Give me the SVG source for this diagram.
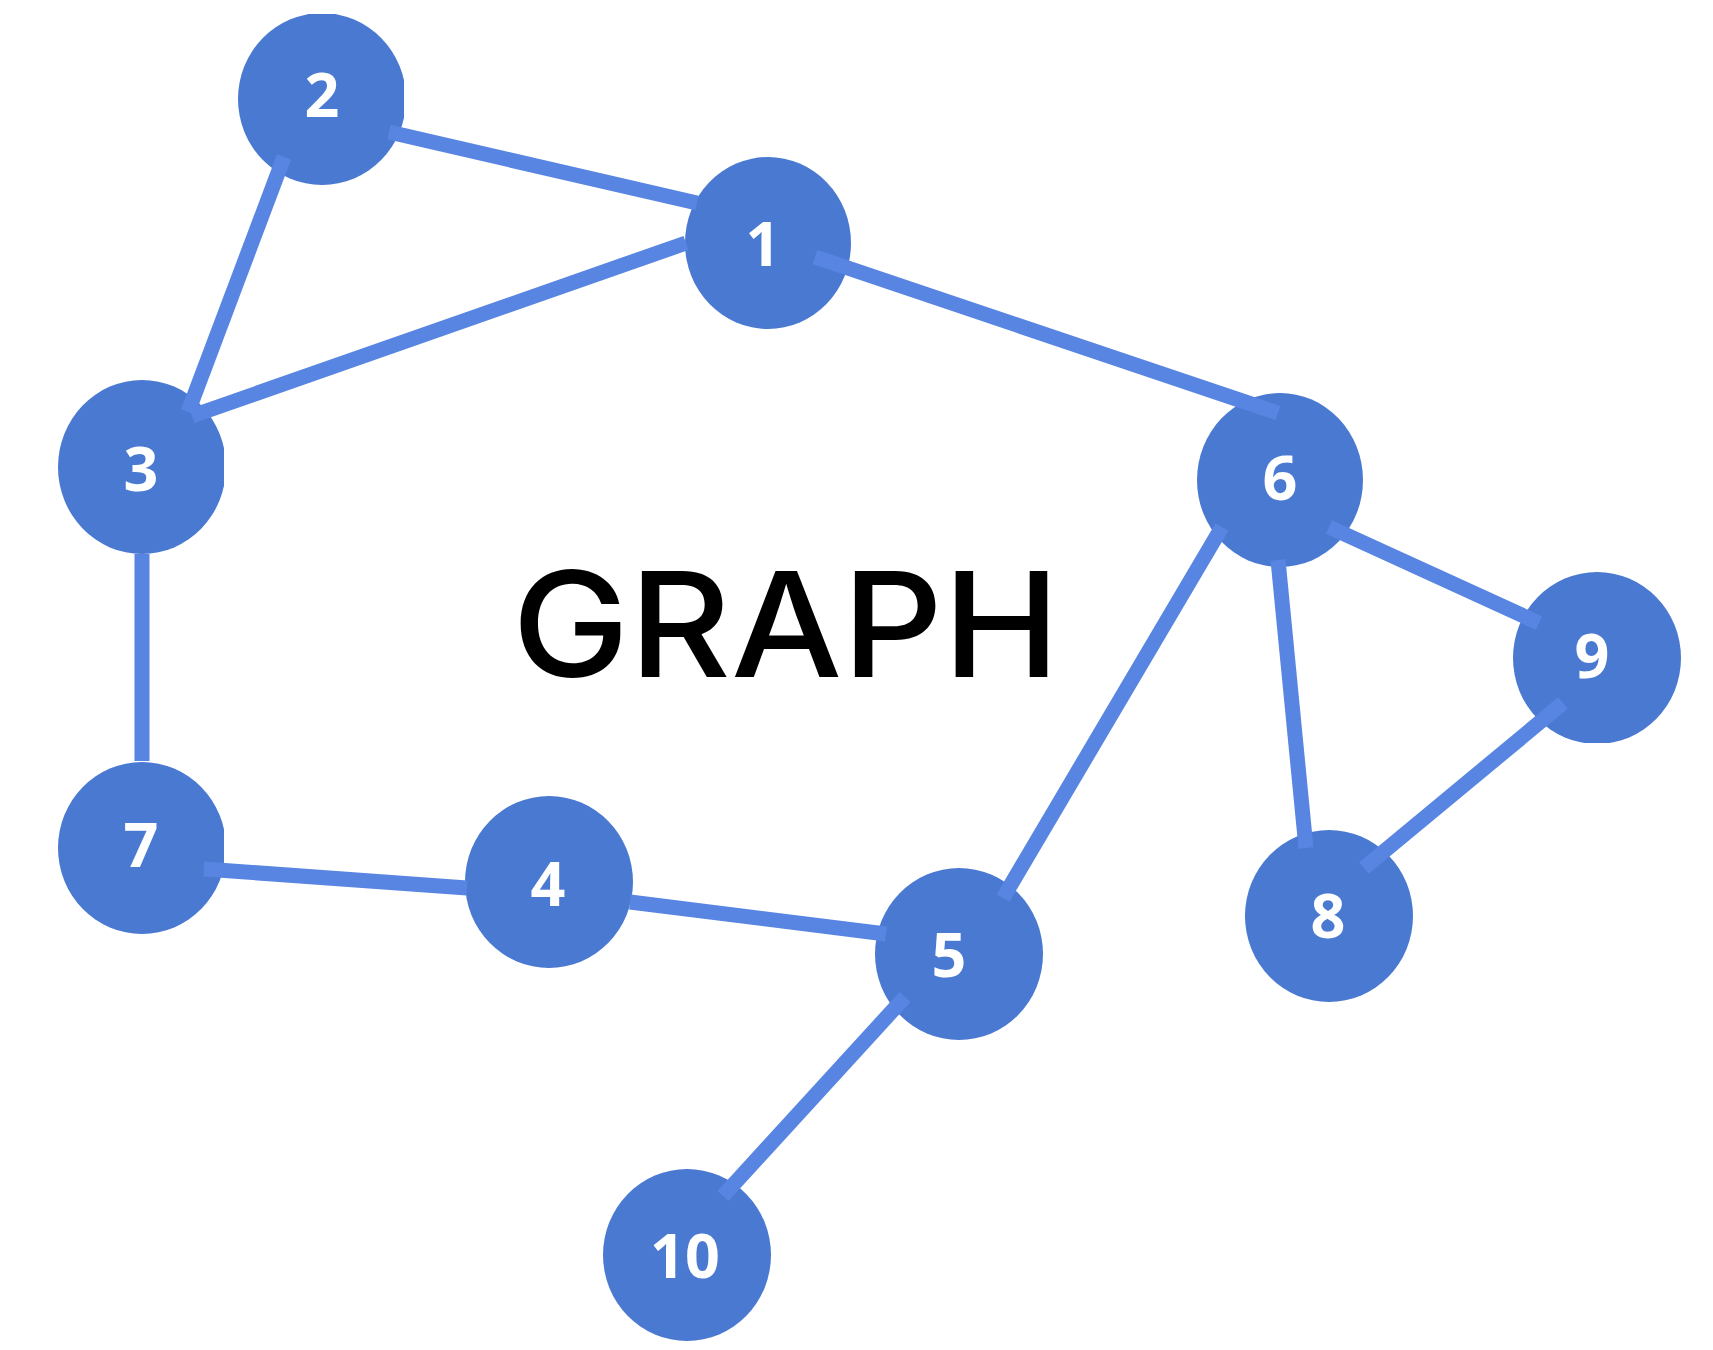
<svg xmlns="http://www.w3.org/2000/svg" width="1713" height="1350" viewBox="0 0 1713 1350">
  <style>
    .node { fill: #4a79d1; }
    .lbl { font-family: "Open Sans", "Liberation Sans", sans-serif; font-weight: 700; font-size: 61px; fill: #ffffff; text-anchor: middle; }
    .edge { stroke: #5885e1; stroke-width: 15; stroke-linecap: butt; fill: none; }
    .title { font-family: Inter, "Liberation Sans", sans-serif; font-weight: 550; font-size: 146px; fill: #000000; }
  </style>
  <defs>
    <clipPath id="c2"><rect x="200" y="14" width="204" height="200"/></clipPath>
    <clipPath id="c3"><rect x="40" y="370" width="184" height="200"/></clipPath>
    <clipPath id="c7"><rect x="40" y="750" width="184" height="200"/></clipPath>
    <clipPath id="c9"><rect x="1500" y="560" width="200" height="183"/></clipPath>
  </defs>
  <rect width="1713" height="1350" fill="#ffffff"/>
  <g id="nodes">
    <g id="node-1"><ellipse class="node" cx="768" cy="243" rx="83" ry="86"/><text class="lbl" x="763" y="266">1</text></g>
    <g id="node-2"><ellipse class="node" cx="322" cy="99" rx="84" ry="86" clip-path="url(#c2)"/><text class="lbl" x="322" y="117">2</text></g>
    <g id="node-3"><ellipse class="node" cx="142" cy="467" rx="84" ry="87" clip-path="url(#c3)"/><text class="lbl" x="141" y="491">3</text></g>
    <g id="node-4"><ellipse class="node" cx="549" cy="882" rx="84" ry="86"/><text class="lbl" x="548" y="906">4</text></g>
    <g id="node-5"><ellipse class="node" cx="959" cy="954" rx="84" ry="86"/><text class="lbl" x="949" y="977">5</text></g>
    <g id="node-6"><ellipse class="node" cx="1280" cy="480" rx="83" ry="87"/><text class="lbl" x="1280" y="500">6</text></g>
    <g id="node-7"><ellipse class="node" cx="142" cy="848" rx="84" ry="86" clip-path="url(#c7)"/><text class="lbl" x="141" y="867">7</text></g>
    <g id="node-8"><ellipse class="node" cx="1329" cy="916" rx="84" ry="86"/><text class="lbl" x="1328" y="938">8</text></g>
    <g id="node-9"><ellipse class="node" cx="1597" cy="658" rx="84" ry="86" clip-path="url(#c9)"/><text class="lbl" x="1592" y="678">9</text></g>
    <g id="node-10"><ellipse class="node" cx="687" cy="1255" rx="84" ry="86"/><text class="lbl" x="685" y="1278">10</text></g>
  </g>
  <g id="edges">
    <line class="edge" x1="389" y1="132" x2="697" y2="203"/>
    <line class="edge" x1="284" y1="157" x2="188" y2="412"/>
    <line class="edge" x1="686" y1="243" x2="192" y2="416"/>
    <line class="edge" x1="815" y1="257" x2="1278" y2="413"/>
    <line class="edge" x1="142" y1="554" x2="142" y2="761"/>
    <line class="edge" x1="204" y1="869" x2="467" y2="888"/>
    <line class="edge" x1="630" y1="902" x2="886" y2="934"/>
    <line class="edge" x1="1222" y1="527" x2="1003" y2="898"/>
    <line class="edge" x1="1278" y1="560" x2="1306" y2="848"/>
    <line class="edge" x1="1329" y1="527" x2="1539" y2="623"/>
    <line class="edge" x1="1563" y1="703" x2="1364" y2="868"/>
    <line class="edge" x1="905" y1="997" x2="723" y2="1196"/>
  </g>
  <text class="title" x="512" y="677" textLength="548" lengthAdjust="spacingAndGlyphs">GRAPH</text>
</svg>
